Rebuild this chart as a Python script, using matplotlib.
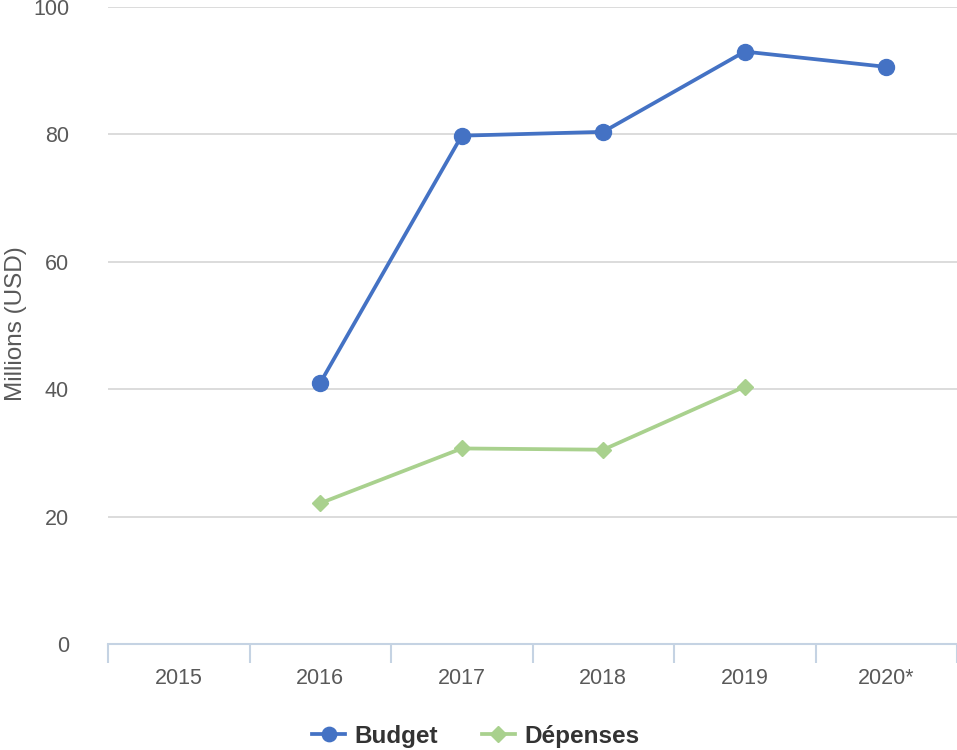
import matplotlib
matplotlib.use("Agg")
import matplotlib.pyplot as plt
import numpy as np

categories = ["2015", "2016", "2017", "2018", "2019", "2020*"]
budget = [None, 41.0, 79.8, 80.4, 93.0, 90.6]
depenses = [None, 22.1, 30.7, 30.5, 40.4, None]

plt.rcParams['font.family'] = ['Liberation Sans', 'DejaVu Sans']

fig = plt.figure(figsize=(9.57, 7.5), dpi=100)
ax = fig.add_axes([108/957, 1-644/750, 1-108/957, (644-7)/750])

x = np.arange(len(categories))
b = np.array([np.nan if v is None else v for v in budget], dtype=float)
d = np.array([np.nan if v is None else v for v in depenses], dtype=float)

ax.plot(x, b, color="#4472C4", lw=2.7, marker="o", ms=11.5, label="Budget", zorder=3)
ax.plot(x, d, color="#A9D18E", lw=2.7, marker="D", ms=8.5, label="Dépenses", zorder=3)

ax.set_xlim(-0.5, len(categories) - 0.5)
ax.set_ylim(0, 100)
ax.set_yticks([0, 20, 40, 60, 80, 100])
ax.yaxis.grid(True, color="#D9D9D9", lw=1.3)
ax.set_axisbelow(True)
for s in ["top", "right", "left"]:
    ax.spines[s].set_visible(False)
ax.spines["bottom"].set_color("#C5D3E3")
ax.spines["bottom"].set_linewidth(1.5)
ax.spines["bottom"].set_zorder(4)

ax.set_xticks(x)
ax.set_xticklabels(categories)
ax.set_xticks(np.arange(-0.5, len(categories)), minor=True)
ax.tick_params(axis="x", which="major", length=0, pad=17, labelsize=15.5, labelcolor="#595959")
ax.tick_params(axis="x", which="minor", length=14, width=1.5, color="#C5D3E3")
ax.tick_params(axis="y", length=0, pad=28, labelsize=15.5, labelcolor="#595959")

ax.set_ylabel("Millions (USD)", fontsize=17.5, color="#595959", va="center")
ax.yaxis.set_label_coords((16 - 108) / 849, (644 - 324) / 637)

leg = fig.legend(loc="center", bbox_to_anchor=(476/957, 1-736/750), ncol=2, frameon=False,
                 prop={"weight": "bold", "size": 17.5}, handlelength=1.35, columnspacing=1.8,
                 handletextpad=0.4, markerscale=0.9)
for t in leg.get_texts():
    t.set_color("#333333")

fig.savefig("out.png", dpi=100)
